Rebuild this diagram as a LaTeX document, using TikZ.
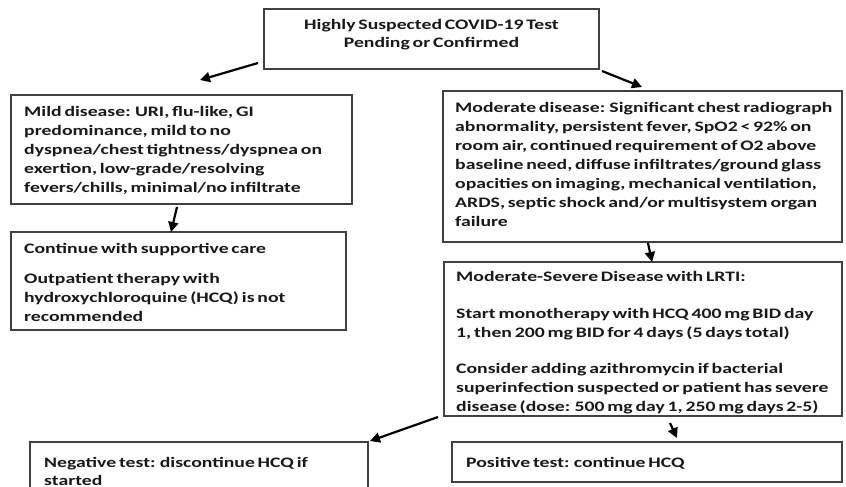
\documentclass[tikz,border=0pt]{standalone}
\usepackage{fontspec}
\setmainfont[FakeStretch=1.36]{Carlito}
\usetikzlibrary{arrows.meta}
\newcommand\tightspace{\spaceskip 2.8pt\relax}
\begin{document}
\begin{tikzpicture}[x=1pt,y=-1pt,
  box/.style={draw=black!75, line width=1.3pt, rectangle, inner sep=0pt, outer sep=0pt, anchor=north west},
  txt/.style={anchor=base west, align=left, inner sep=0pt, font=\bfseries\fontsize{14.5}{19}\selectfont\tightspace, text=black!90},
  arr/.style={line width=2.2pt, -{Triangle[length=10pt,width=10pt]}}]
\useasboundingbox (0,0) rectangle (846,487);
\clip (0,0) rectangle (846,487);
\fill[white] (0,0) rectangle (846,487);
% boxes
\node[box, minimum width=335pt, minimum height=60pt] (top) at (264,9) {};
\node[box, minimum width=341pt, minimum height=109pt] (mild) at (11,95) {};
\node[box, minimum width=399pt, minimum height=151pt] (mod) at (443,91) {};
\node[box, minimum width=335pt, minimum height=98pt] (cont) at (11,232) {};
\node[box, minimum width=398pt, minimum height=154pt] (sev) at (444,262) {};
\node[box, minimum width=338pt, minimum height=60pt] (neg) at (30,442) {};
\node[box, minimum width=390pt, minimum height=40pt] (pos) at (452,442) {};
% texts (anchor = baseline of the last line)
\node[txt, anchor=base, align=center] (topt) at (431.5,48) {Highly Suspected COVID-19 Test\\[-1pt]Pending or Confirmed};
\node[txt] (mildt) at (24,192) {Mild disease: URI, flu-like, GI\\predominance, mild to no\\dyspnea/chest tightness/dyspnea on\\exertion, low-grade/resolving\\fevers/chills, minimal/no infiltrate};
\node[txt] (modt) at (455,226) {Moderate disease: Significant chest radiograph\\abnormality, persistent fever, SpO2 < 92\% on\\room air, continued requirement of O2 above\\baseline need, diffuse infiltrates/ground glass\\opacities on imaging, mechanical ventilation,\\ARDS, septic shock and/or multisystem organ\\failure};
\node[txt] (contt) at (24,321) {Continue with supportive care\\[11pt]Outpatient therapy with\\hydroxychloroquine (HCQ) is not\\recommended};
\node[txt] (sevt) at (456,411) {Moderate-Severe Disease with LRTI:\\[18pt]Start monotherapy with HCQ 400 mg BID day\\1, then 200 mg BID for 4 days (5 days total)\\[17pt]Consider adding azithromycin if bacterial\\superinfection suspected or patient has severe\\disease (dose: 500 mg day 1, 250 mg days 2-5)};
\node[txt] (negt) at (44,485) {Negative test: discontinue HCQ if\\[-1pt]started};
\node[txt] (post) at (466,467) {Positive test: continue HCQ};
% arrows
\draw[arr] ([shift={(-6,-6)}]top.south west) -- ([shift={(189,-15)}]mild.north west);
\draw[arr] ([shift={(3,2)}]top.south east) -- ([shift={(199,-4)}]mod.north west);
\draw[arr] ([shift={(166,3)}]mild.south west) -- ([shift={(160,0)}]cont.north west);
\draw[arr] ([shift={(205,1)}]mod.south west) -- ([shift={(208,0)}]sev.north west);
\draw[arr] ([shift={(-6,1)}]sev.south west) -- ([shift={(2,-1)}]neg.north east);
\draw[arr] ([shift={(226,7)}]sev.south west) -- ([shift={(225,-4)}]pos.north west);
\end{tikzpicture}
\end{document}
